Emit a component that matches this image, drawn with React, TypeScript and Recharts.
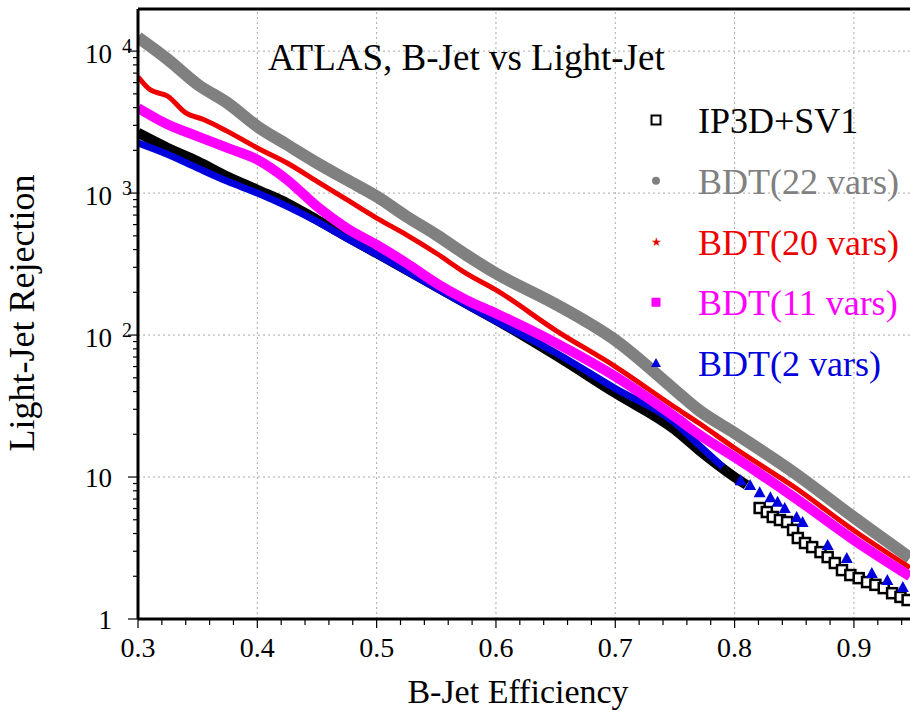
import React from 'react';
import { ComposedChart, Line, Scatter, XAxis, YAxis, ReferenceLine } from 'recharts';

// ROC-style curves: b-jet efficiency vs light-jet rejection
const bdt22Eff = [0.3, 0.325, 0.35, 0.375, 0.4, 0.425, 0.45, 0.475, 0.5, 0.525, 0.55, 0.575, 0.6, 0.65, 0.7, 0.75, 0.77, 0.8, 0.85, 0.9, 0.947];
const bdt22Rej = [12500, 8730, 5820, 4310, 2950, 2190, 1630, 1240, 947, 684, 508, 367, 272, 165, 92, 41, 29.6, 20.4, 10.7, 5.2, 2.7];

const bdt20Eff = [0.3, 0.31, 0.325, 0.34, 0.355, 0.375, 0.4, 0.425, 0.45, 0.475, 0.5, 0.525, 0.55, 0.575, 0.6, 0.65, 0.7, 0.75, 0.77, 0.8, 0.85, 0.9, 0.947];
const bdt20Rej = [6600, 5360, 4810, 3670, 3300, 2720, 2080, 1630, 1210, 898, 667, 508, 377, 272, 208, 108, 60, 31, 24, 16, 8.5, 4.2, 2.3];

const bdt11Eff = [0.3, 0.325, 0.35, 0.375, 0.4, 0.425, 0.45, 0.475, 0.5, 0.525, 0.55, 0.575, 0.6, 0.65, 0.7, 0.75, 0.77, 0.8, 0.85, 0.9, 0.947];
const bdt11Rej = [3980, 3040, 2510, 2080, 1720, 1240, 806, 566, 432, 321, 232, 177, 142, 88, 51, 26.5, 20, 13.8, 7.2, 3.6, 2.0];

const ip3dEff = [0.3, 0.325, 0.35, 0.375, 0.4, 0.425, 0.45, 0.475, 0.5, 0.525, 0.55, 0.575, 0.6, 0.65, 0.7, 0.75, 0.77, 0.8, 0.81];
const ip3dRej = [2660, 2080, 1675, 1310, 1056, 850, 649, 494, 377, 288, 219, 167, 128, 72, 39, 21.5, 15.5, 10, 8.8];
const ip3dTailEff = [0.821, 0.827, 0.832, 0.838, 0.844, 0.849, 0.853, 0.859, 0.865, 0.872, 0.878, 0.884, 0.89, 0.897, 0.904, 0.911, 0.918, 0.925, 0.932, 0.939, 0.945];
const ip3dTailRej = [6.05, 5.67, 5.23, 4.98, 4.82, 4.24, 3.72, 3.43, 3.21, 2.96, 2.73, 2.48, 2.21, 2.04, 1.94, 1.82, 1.74, 1.65, 1.52, 1.43, 1.36];

const bdt2Eff = [0.3, 0.325, 0.35, 0.375, 0.4, 0.425, 0.45, 0.475, 0.5, 0.525, 0.55, 0.575, 0.6, 0.65, 0.7, 0.75, 0.77, 0.79];
const bdt2Rej = [2250, 1870, 1500, 1210, 1000, 806, 631, 480, 370, 282, 214, 163, 125, 75, 42, 24, 16.8, 11.8];
const bdt2TailEff = [0.805, 0.813, 0.821, 0.83, 0.836, 0.842, 0.852, 0.857, 0.878, 0.894, 0.915, 0.928, 0.941];
const bdt2TailRej = [9.5, 8.8, 7.8, 7.2, 6.7, 6.05, 5.23, 4.82, 3.32, 2.69, 2.11, 1.88, 1.68];

const xMajorTicks = [0.3, 0.4, 0.5, 0.6, 0.7, 0.8, 0.9];
const xMinorTicks = [0.32, 0.34, 0.36, 0.38, 0.42, 0.44, 0.46, 0.48, 0.52, 0.54, 0.56, 0.58, 0.62, 0.64, 0.66, 0.68, 0.72, 0.74, 0.76, 0.78, 0.82, 0.84, 0.86, 0.88, 0.92, 0.94];
const yMajorTicks = [1, 10, 100, 1000, 10000];
const xGrid = [0.4, 0.5, 0.6, 0.7, 0.8, 0.9];
const yGrid = [10, 100, 1000, 10000];

const X_DOMAIN = [0.3, 0.947];
const Y_DOMAIN = [1, 19800];
const FONT = '"Liberation Serif", "Times New Roman", serif';

const toPoints = (eff: number[], rej: number[]) => eff.map((e, i) => ({ eff: e, rej: rej[i] }));

const yMinorTicks = yMajorTicks.slice(0, 4).flatMap((d) => [2, 3, 4, 5, 6, 7, 8, 9].map((m) => m * d));
const yTicks = [...yMajorTicks, ...yMinorTicks].sort((a, b) => a - b);
const xTicks = [...xMajorTicks, ...xMinorTicks].sort((a, b) => a - b);

const legendItems = [
  { label: 'IP3D+SV1', color: '#000000', marker: 'hollowSquare' },
  { label: 'BDT(22 vars)', color: '#808080', marker: 'circle' },
  { label: 'BDT(20 vars)', color: '#ee0000', marker: 'star' },
  { label: 'BDT(11 vars)', color: '#ff00ff', marker: 'square' },
  { label: 'BDT(2 vars)', color: '#0000dd', marker: 'triangle' },
];

function YTick(props: any) {
  const { x, y, payload } = props;
  const v = payload.value;
  const exp = Math.round(Math.log10(v));
  const major = Math.abs(Math.log10(v) - exp) < 1e-6;
  return (
    <g>
      <line x1={x} x2={x - (major ? 10 : 5)} y1={y} y2={y} stroke="#000" strokeWidth={1.2} />
      {major && exp < 2 && (
        <text x={x - 26} y={y + 10} textAnchor="end" fontSize={27} fontFamily={FONT} fill="#000">
          {v}
        </text>
      )}
      {major && exp >= 2 && (
        <g>
          <text x={x - 26} y={y + 12} textAnchor="end" fontSize={27} fontFamily={FONT} fill="#000">
            10
          </text>
          <text x={x - 16} y={y + 2} fontSize={20} fontFamily={FONT} fill="#000">
            {exp}
          </text>
        </g>
      )}
    </g>
  );
}

function XTick(props: any) {
  const { x, y, payload } = props;
  const v = payload.value;
  const major = Math.abs(v * 10 - Math.round(v * 10)) < 1e-6;
  return (
    <g>
      <line x1={x} x2={x} y1={y} y2={y + (major ? 9 : 6)} stroke="#000" strokeWidth={1.2} />
      {major && (
        <text x={x} y={y + 38} textAnchor="middle" fontSize={28} fontFamily={FONT} fill="#000">
          {v.toFixed(1)}
        </text>
      )}
    </g>
  );
}

function HollowSquare(props: any) {
  const { cx, cy } = props;
  return <rect x={cx - 5} y={cy - 5} width={10} height={10} fill="#fff" stroke="#000" strokeWidth={2.5} />;
}

function Triangle(props: any) {
  const { cx, cy } = props;
  return <polygon points={`${cx},${cy - 6} ${cx - 6},${cy + 5} ${cx + 6},${cy + 5}`} fill="#0000dd" />;
}

function LegendMarker({ kind, color, x, y }: { kind: string; color: string; x: number; y: number }) {
  if (kind === 'hollowSquare')
    return <rect x={x - 4.5} y={y - 4.5} width={9} height={9} fill="#fff" stroke={color} strokeWidth={2} />;
  if (kind === 'circle') return <circle cx={x} cy={y} r={4} fill={color} />;
  if (kind === 'star')
    return (
      <text x={x} y={y + 4} textAnchor="middle" fontSize={12} fill={color}>
        ★
      </text>
    );
  if (kind === 'square') return <rect x={x - 4.5} y={y - 4.5} width={9} height={9} fill={color} />;
  return <polygon points={`${x},${y - 5} ${x - 5},${y + 4} ${x + 5},${y + 4}`} fill={color} />;
}

export default function App() {
  return (
    <div style={{ position: 'absolute', left: 0, top: 0, width: 910, height: 711, background: '#fff' }}>
      <ComposedChart width={910} height={711} margin={{ top: 9, right: 0, bottom: 0, left: 0 }}>
        <XAxis
          type="number"
          dataKey="eff"
          domain={X_DOMAIN}
          allowDataOverflow
          ticks={xTicks}
          interval={0}
          tick={<XTick />}
          tickSize={0}
          tickMargin={0}
          tickLine={false}
          height={92}
          axisLine={{ stroke: '#000', strokeWidth: 3 }}
        />
        <YAxis
          type="number"
          dataKey="rej"
          scale="log"
          domain={Y_DOMAIN}
          allowDataOverflow
          ticks={yTicks}
          interval={0}
          tick={<YTick />}
          tickSize={0}
          tickMargin={0}
          tickLine={false}
          width={138}
          axisLine={{ stroke: '#000', strokeWidth: 3 }}
        />
        {xGrid.map((g) => (
          <ReferenceLine key={`gx${g}`} x={g} stroke="#aaaaaa" strokeDasharray="2 3" />
        ))}
        {yGrid.map((g) => (
          <ReferenceLine key={`gy${g}`} y={g} stroke="#aaaaaa" strokeDasharray="2 3" />
        ))}
        <ReferenceLine y={Y_DOMAIN[1]} stroke="#000" strokeWidth={3} />

        <Line data={toPoints(ip3dEff, ip3dRej)} dataKey="rej" type="monotone" stroke="#000" strokeWidth={10} dot={false} isAnimationActive={false} />
        <Scatter data={toPoints(ip3dTailEff, ip3dTailRej)} dataKey="rej" shape={<HollowSquare />} isAnimationActive={false} />
        <Line data={toPoints(bdt2Eff, bdt2Rej)} dataKey="rej" type="monotone" stroke="#0000dd" strokeWidth={7} dot={false} isAnimationActive={false} />
        <Scatter data={toPoints(bdt2TailEff, bdt2TailRej)} dataKey="rej" shape={<Triangle />} isAnimationActive={false} />
        <Line data={toPoints(bdt22Eff, bdt22Rej)} dataKey="rej" type="monotone" stroke="#808080" strokeWidth={12} dot={false} isAnimationActive={false} />
        <Line data={toPoints(bdt20Eff, bdt20Rej)} dataKey="rej" type="monotone" stroke="#ee0000" strokeWidth={5} dot={false} isAnimationActive={false} />
        <Line data={toPoints(bdt11Eff, bdt11Rej)} dataKey="rej" type="monotone" stroke="#ff00ff" strokeWidth={10} dot={false} isAnimationActive={false} />
      </ComposedChart>

      <svg width={910} height={711} style={{ position: 'absolute', left: 0, top: 0, pointerEvents: 'none' }}>
        <text x={268} y={70} fontSize={37} fontFamily={FONT} fill="#000">
          ATLAS, B-Jet vs Light-Jet
        </text>
        {legendItems.map((item, i) => {
          const my = 120 + i * 60.75;
          return (
            <g key={item.label}>
              <LegendMarker kind={item.marker} color={item.color} x={656} y={my} />
              <text x={698} y={my + 13} fontSize={36} fontFamily={FONT} fill={item.color}>
                {item.label}
              </text>
            </g>
          );
        })}
        <text x={518} y={703} textAnchor="middle" fontSize={34} fontFamily={FONT} fill="#000">
          B-Jet Efficiency
        </text>
        <text x={34} y={313} textAnchor="middle" fontSize={36} fontFamily={FONT} fill="#000" transform="rotate(-90 34 313)">
          Light-Jet Rejection
        </text>
      </svg>
    </div>
  );
}
